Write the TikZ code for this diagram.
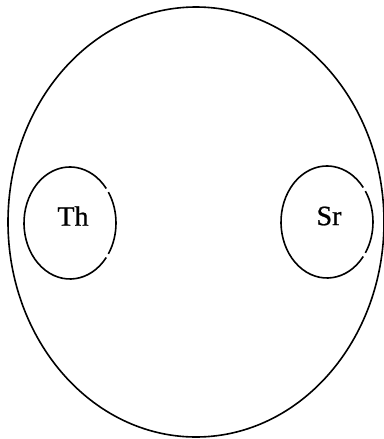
\documentclass[tikz,border=0pt]{standalone}
\usepackage{fontspec}
\setmainfont{Liberation Serif}
\newfontfamily\labelfont[FakeBold=0.8]{Liberation Serif}
\usetikzlibrary{calc}
\begin{document}
\begin{tikzpicture}[x=1pt,y=-1pt,
  outline/.style={line width=1.6pt,black},
  label/.style={font=\labelfont\fontsize{28}{32}\selectfont,inner sep=0pt}]
\useasboundingbox (0,0) rectangle (383,439);
% outer ellipse
\coordinate (O) at (196,222);
\draw[outline] (O) ellipse[x radius=188, y radius=215];
% Th ellipse with two small gaps on its right side
\coordinate (T) at (70,223);
\draw[outline] ($(T)+(38:46 and 56)$) arc[start angle=38, end angle=322, x radius=46, y radius=56];
\draw[outline] ($(T)+(-33.5:46 and 56)$) arc[start angle=-33.5, end angle=33.5, x radius=46, y radius=56];
% Sr ellipse with two small gaps on its right side
\coordinate (S) at (327,222);
\draw[outline] ($(S)+(38:46 and 56)$) arc[start angle=38, end angle=322, x radius=46, y radius=56];
\draw[outline] ($(S)+(-33.5:46 and 56)$) arc[start angle=-33.5, end angle=33.5, x radius=46, y radius=56];
\node[label] (th) at (73,216) {Th};
\node[label] (sr) at (329,216) {Sr};
\end{tikzpicture}
\end{document}
